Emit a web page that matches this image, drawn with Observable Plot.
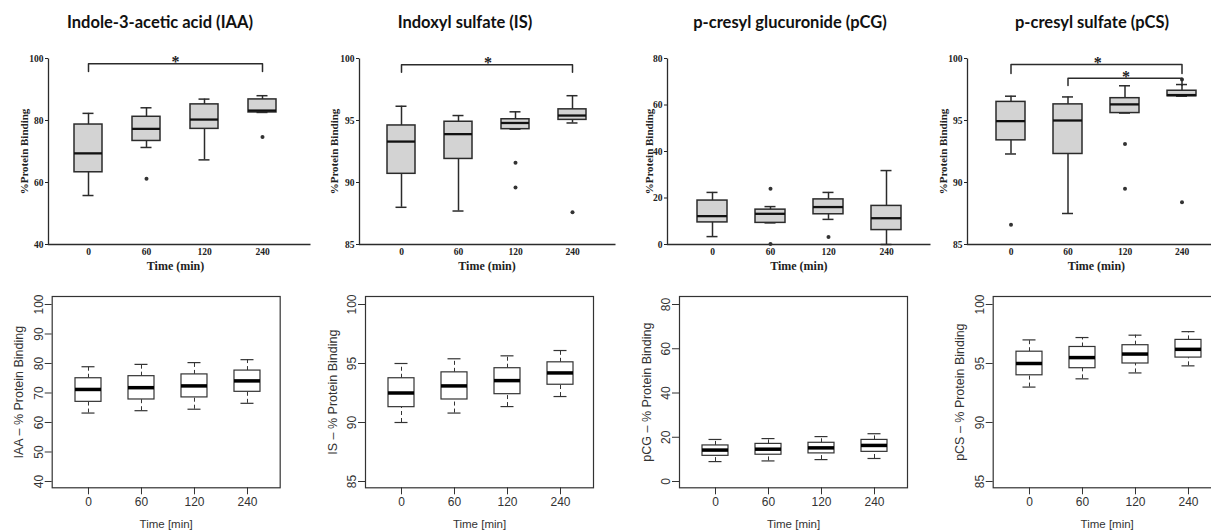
<!DOCTYPE html>
<html><head><meta charset="utf-8">
<script src="https://cdn.jsdelivr.net/npm/d3@7"></script>
<script src="https://cdn.jsdelivr.net/npm/@observablehq/plot@0.6"></script>
<style>
html,body{margin:0;padding:0;background:#fff;}
#page{position:relative;width:1211px;height:530px;overflow:hidden;background:#fff;}
.panel{position:absolute;}
.panel svg{overflow:visible;max-width:none;background:transparent;}
.title{position:absolute;top:10px;transform:translateX(-50%);font-family:Lato,"Open Sans",sans-serif;font-weight:700;font-size:16.5px;color:#111;white-space:nowrap;line-height:24px;}
</style></head><body><div id="page"></div>
<script>
// ---------- data ----------
const times = ["0", "60", "120", "240"];
const titles = ["Indole-3-acetic acid (IAA)", "Indoxyl sulfate (IS)", "p-cresyl glucuronide (pCG)", "p-cresyl sulfate (pCS)"];
const topYLabel = "%Protein Binding";
const topXLabel = "Time (min)";
const bottomYLabels = ["IAA \u2013 % Protein Binding", "IS \u2013 % Protein Binding", "pCG \u2013 % Protein Binding", "pCS \u2013 % Protein Binding"];
const bottomXLabel = "Time [min]";

const topDomains = [[40, 100], [85, 100], [0, 80], [85, 100]];
const topTicks = [[40, 60, 80, 100], [85, 90, 95, 100], [0, 20, 40, 60, 80], [85, 90, 95, 100]];
const bottomDomains = [[40, 100], [85, 100], [0, 80], [85, 100]];
const bottomTicks = [[40, 50, 60, 70, 80, 90, 100], [85, 90, 95, 100], [0, 20, 40, 60, 80], [85, 90, 95, 100]];

// [low whisker, Q1, median, Q3, high whisker] for each time point
const topIAA = [[55.8, 63.3, 69.4, 78.7, 82.3], [71.3, 73.4, 77.3, 81.2, 84.1], [67.3, 77.3, 80.3, 85.2, 86.9], [82.6, 82.6, 83.2, 86.8, 88.0]];
const topIS  = [[88.0, 90.7, 93.3, 94.6, 96.15], [87.7, 91.9, 93.9, 94.9, 95.4], [94.3, 94.3, 94.8, 95.1, 95.7], [94.8, 95.05, 95.4, 95.9, 97.0]];
const topPCG = [[3.4, 9.5, 12.2, 18.9, 22.4], [9.3, 9.3, 13.2, 15.0, 16.3], [10.8, 13.0, 16.1, 19.4, 22.4], [0.0, 6.2, 11.3, 16.6, 31.8]];
const topPCS = [[92.3, 93.4, 94.95, 96.5, 96.96], [87.5, 92.3, 95.0, 96.3, 96.9], [95.6, 95.6, 96.3, 96.8, 97.8], [96.96, 96.96, 97.05, 97.4, 97.9]];

const topOutIAA = [["60", 61.2], ["240", 74.7]];
const topOutIS  = [["120", 91.6], ["120", 89.6], ["240", 87.6]];
const topOutPCG = [["60", 24.0], ["60", 0.2], ["120", 3.2]];
const topOutPCS = [["0", 86.6], ["120", 93.1], ["120", 89.5], ["240", 98.3], ["240", 88.4]];

const sigIAA = [{from: "0", to: "240", y: 98.3, foot: 95.8}];
const sigIS  = [{from: "0", to: "240", y: 99.5, foot: 98.9}];
const sigPCG = [];
const sigPCS = [{from: "0", to: "240", y: 99.52, foot: 98.8}, {from: "60", to: "240", y: 98.41, foot: 97.82}];

const botIAA = [[63.2, 67.0, 71.2, 75.0, 78.9], [64.0, 67.8, 71.8, 75.7, 79.7], [64.5, 68.5, 72.4, 76.3, 80.3], [66.5, 70.4, 74.1, 77.6, 81.3]];
const botIS  = [[90.0, 91.3, 92.5, 93.75, 95.0], [90.8, 91.95, 93.1, 94.25, 95.4], [91.35, 92.4, 93.55, 94.6, 95.65], [92.2, 93.2, 94.2, 95.1, 96.1]];
const botPCG = [[9.0, 11.6, 14.2, 16.3, 19.0], [9.3, 12.1, 14.6, 17.0, 19.4], [9.9, 12.7, 15.2, 17.5, 20.3], [10.4, 13.4, 16.3, 18.8, 21.6]];
const botPCS = [[93.0, 94.0, 95.0, 96.0, 97.0], [93.7, 94.6, 95.5, 96.4, 97.2], [94.2, 95.0, 95.8, 96.55, 97.4], [94.8, 95.5, 96.2, 97.0, 97.7]];

// ---------- layout ----------
const topStats = [topIAA, topIS, topPCG, topPCS];
const topOut = [topOutIAA, topOutIS, topOutPCG, topOutPCS];
const topSig = [sigIAA, sigIS, sigPCG, sigPCS];
const botStats = [botIAA, botIS, botPCG, botPCS];

const topLayout = [
  {left: 0,   axisX: 48,  axisEnd: 310,  c0: 88,   step: 58,   bw: 28, ylabOff: 24},
  {left: 300, axisX: 359, axisEnd: 615,  c0: 400,  step: 57.7, bw: 28, ylabOff: 25.5},
  {left: 600, axisX: 667, axisEnd: 930,  c0: 710,  step: 58.9, bw: 30, ylabOff: 18.5},
  {left: 900, axisX: 967, axisEnd: 1215, c0: 1009, step: 57.9, bw: 29, ylabOff: 24}
];
const titleX = [160, 465, 790, 1092];
const bottomLayout = [{left: 0, frameL: 51.7}, {left: 300, frameL: 365}, {left: 600, frameL: 679}, {left: 900, frameL: 992.7}];

const page = document.getElementById("page");

function toRows(stats) {
  return stats.map((s, i) => ({t: times[i], lo: s[0], q1: s[1], med: s[2], q3: s[3], hi: s[4]}));
}

function topPanel(k) {
  const L = topLayout[k];
  const height = 275, marginTop = 58, marginBottom = 31;
  const marginLeft = L.axisX - L.left;
  const width = L.axisEnd - L.left;
  const marginRight = 0;
  const r0 = L.c0 - L.left - L.bw / 2, r1 = r0 + 3 * L.step + L.bw;
  const rows = toRows(topStats[k]);
  const w = width - marginLeft - marginRight, h = height - marginTop - marginBottom;
  const capInset = (L.bw - 11) / 2;
  const stroke = "#2b2b2b";
  const brackets = topSig[k].flatMap((s, j) => [
    {id: j, t: s.from, y: s.foot}, {id: j, t: s.from, y: s.y}, {id: j, t: s.to, y: s.y}, {id: j, t: s.to, y: s.foot}
  ]);
  const stars = topSig[k].map(s => Plot.text([s], {
    x: "from", y: "y", text: () => "*",
    dx: (times.indexOf(s.to) - times.indexOf(s.from)) * L.step / 2,
    dy: -1.5, fontSize: 16, fontWeight: "bold", fill: "#222"
  }));
  const catMid = (r0 + r1) / 2, frameMid = marginLeft + w / 2;
  return Plot.plot({
    width, height, marginTop, marginBottom, marginLeft, marginRight,
    style: {fontFamily: "'Liberation Serif', serif", fontWeight: "bold", fontSize: "9.5px", color: "#222", background: "transparent", overflow: "visible"},
    x: {type: "band", domain: times, range: [r0, r1], paddingInner: 1 - L.bw / L.step, paddingOuter: 0, tickSize: 0, tickPadding: 4, label: null},
    y: {domain: topDomains[k], ticks: topTicks[k], tickSize: 3, tickPadding: 2, label: null},
    marks: [
      Plot.frame({stroke, strokeWidth: 1.3, strokeDasharray: `0 ${w + h} ${w + h}`}),
      Plot.ruleX(rows, {x: "t", y1: "lo", y2: "hi", stroke, strokeWidth: 1.5}),
      Plot.tickY(rows, {x: "t", y: "hi", insetLeft: capInset, insetRight: capInset, stroke, strokeWidth: 1.5}),
      Plot.tickY(rows, {x: "t", y: "lo", insetLeft: capInset, insetRight: capInset, stroke, strokeWidth: 1.5}),
      Plot.barY(rows, {x: "t", y1: "q1", y2: "q3", fill: "#d3d3d3", stroke, strokeWidth: 1.5}),
      Plot.tickY(rows, {x: "t", y: "med", stroke: "#111", strokeWidth: 2.3}),
      Plot.dot(topOut[k], {x: d => d[0], y: d => d[1], r: 2, fill: "#333", stroke: "none"}),
      Plot.line(brackets, {x: "t", y: "y", z: "id", stroke, strokeWidth: 1.5}),
      ...stars,
      Plot.text([topYLabel], {text: d => d, frameAnchor: "left", textAnchor: "middle", lineAnchor: "middle", rotate: -90, dx: -L.ylabOff, fontSize: 11, fill: "#222"}),
      Plot.text([topXLabel], {text: d => d, frameAnchor: "bottom", textAnchor: "middle", lineAnchor: "middle", dy: 21.5, dx: catMid - frameMid, fontSize: 12, fill: "#222"})
    ]
  });
}

function bottomPanel(k) {
  const B = bottomLayout[k];
  const top = 280, height = 250;
  const marginTop = 296 - top, marginBottom = height - (487.3 - top);
  const marginLeft = B.frameL - B.left;
  const frameW = 228, marginRight = 4;
  const width = marginLeft + frameW + marginRight;
  const step = 53.5, bw = 26;
  const r0 = marginLeft + 35 - bw / 2, r1 = r0 + 3 * step + bw;
  const rows = toRows(botStats[k]);
  const stroke = "#333";
  const capInset = (bw - 13) / 2;
  return Plot.plot({
    width, height, marginTop, marginBottom, marginLeft, marginRight,
    style: {fontFamily: "'Liberation Sans', Arial, sans-serif", fontSize: "12px", color: "#333", background: "transparent", overflow: "visible"},
    x: {type: "band", domain: times, range: [r0, r1], paddingInner: 1 - bw / step, paddingOuter: 0, tickSize: 7, tickPadding: 3, label: null},
    y: {domain: bottomDomains[k], range: [481 - top, 304 - top], ticks: bottomTicks[k], tickSize: 7, tickFormat: () => "", label: null},
    marks: [
      Plot.frame({stroke, strokeWidth: 1.2}),
      Plot.ruleX(rows, {x: "t", y1: "q3", y2: "hi", stroke, strokeWidth: 1, strokeDasharray: "4,3"}),
      Plot.ruleX(rows, {x: "t", y1: "lo", y2: "q1", stroke, strokeWidth: 1, strokeDasharray: "4,3"}),
      Plot.tickY(rows, {x: "t", y: "hi", insetLeft: capInset, insetRight: capInset, stroke, strokeWidth: 1.2}),
      Plot.tickY(rows, {x: "t", y: "lo", insetLeft: capInset, insetRight: capInset, stroke, strokeWidth: 1.2}),
      Plot.barY(rows, {x: "t", y1: "q1", y2: "q3", fill: "white", stroke, strokeWidth: 1.2}),
      Plot.tickY(rows, {x: "t", y: "med", stroke: "#000", strokeWidth: 3.5}),
      Plot.text(bottomTicks[k], {y: d => d, text: d => String(d), frameAnchor: "left", textAnchor: "middle", lineAnchor: "middle", dx: -13.5, rotate: -90, fontSize: 12, fill: "#333"}),
      Plot.text([bottomYLabels[k]], {text: d => d, frameAnchor: "left", textAnchor: "middle", lineAnchor: "middle", rotate: -90, dx: -33, fontSize: 12.5, fill: "#333"}),
      Plot.text([bottomXLabel], {text: d => d, frameAnchor: "bottom", textAnchor: "middle", lineAnchor: "middle", dy: 36.7, fontSize: 11.5, fill: "#333"})
    ]
  });
}

for (let k = 0; k < 4; ++k) {
  const t = document.createElement("div");
  t.className = "title";
  t.style.left = titleX[k] + "px";
  t.textContent = titles[k];
  page.appendChild(t);

  const d1 = document.createElement("div");
  d1.className = "panel";
  d1.style.left = topLayout[k].left + "px";
  d1.style.top = "0px";
  d1.appendChild(topPanel(k));
  page.appendChild(d1);

  const d2 = document.createElement("div");
  d2.className = "panel";
  d2.style.left = bottomLayout[k].left + "px";
  d2.style.top = "280px";
  d2.appendChild(bottomPanel(k));
  page.appendChild(d2);
}
</script>
</body></html>
